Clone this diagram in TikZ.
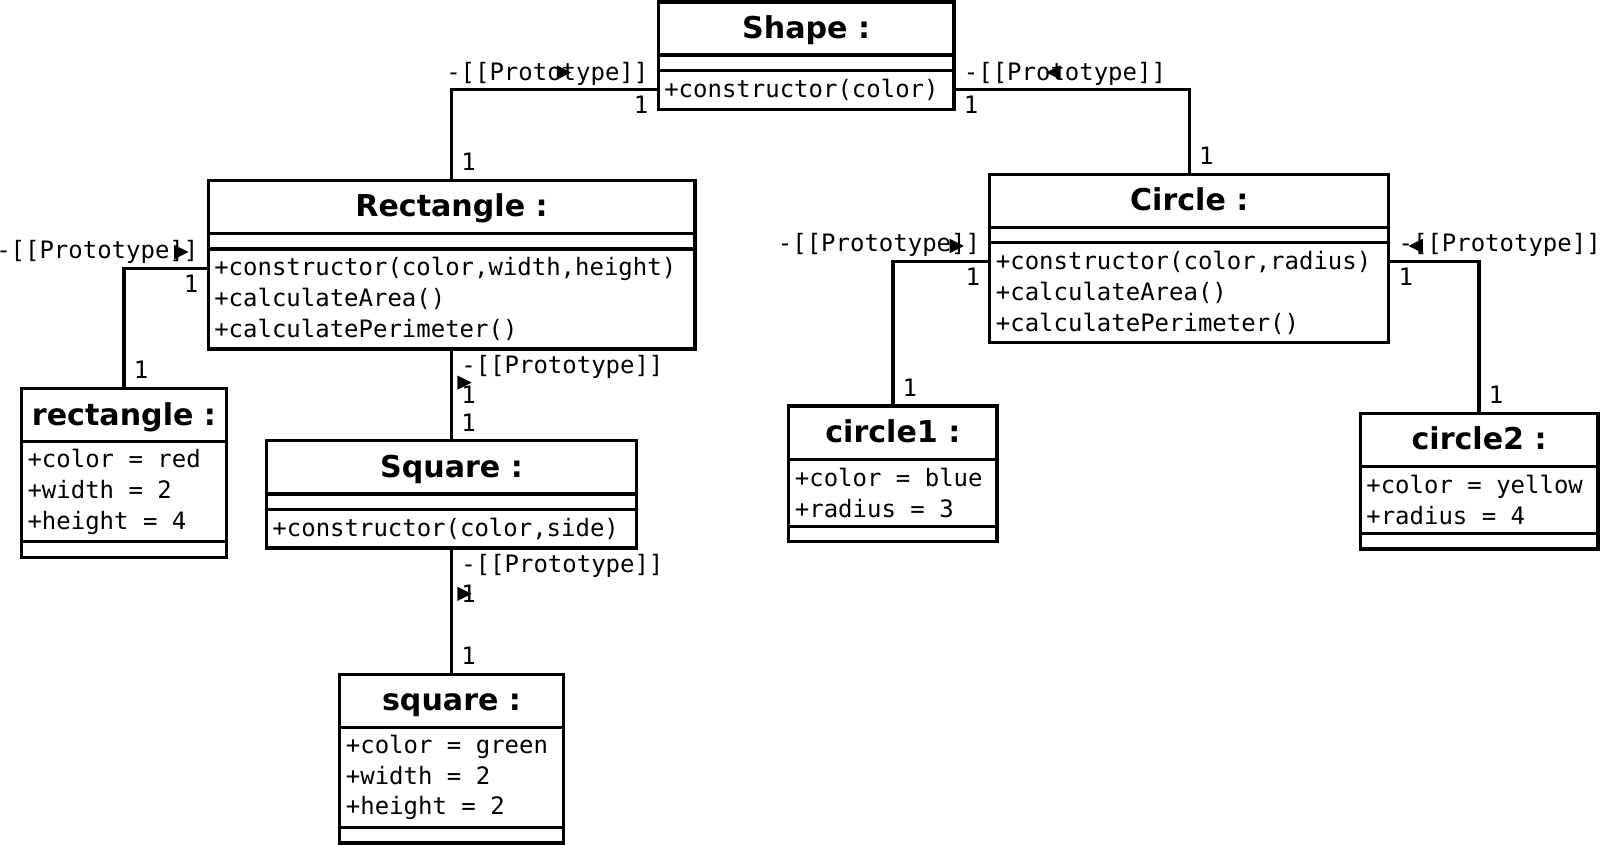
\documentclass[tikz,border=0pt]{standalone}
\usepackage{fontspec}
\setmainfont{DejaVu Sans}
\newfontfamily\umlmono{DejaVu Sans Mono}[WordSpace={1,0,0}]
\usetikzlibrary{positioning,shapes.geometric}
\newcommand\umltitlefont{\fontsize{29.5}{35}\selectfont\bfseries}
\newcommand\umlmemberfont{\umlmono\fontsize{23.5}{30}\selectfont}
\tikzset{
  umlpart/.style={draw, line width=3.2pt, outer sep=0pt, inner sep=0pt},
  umltitle/.style={umlpart, anchor=north, minimum width=#1, minimum height=52pt,
    font=\umltitlefont, text height=24pt, text depth=5pt},
  umlempty/.style={umlpart, minimum width=#1, minimum height=15pt},
  umlmembers/.style 2 args={umlpart, inner xsep=6pt, text width=#1,
    minimum height=#2, align=left, font=\umlmemberfont,
    execute at begin node={\spaceskip=0pt\xspaceskip=0pt\relax}},
  conn/.style={draw, line width=3.2pt},
  lbl/.style={font=\umlmemberfont, inner xsep=8pt, inner ysep=4pt,
    text height=18pt, text depth=4pt},
  tipR/.style={isosceles triangle, isosceles triangle stretches, fill, draw=none,
    inner sep=0pt, minimum width=14pt, minimum height=14pt},
  tipL/.style={tipR, shape border rotate=180}
}
\begin{document}
\begin{tikzpicture}[x=1pt, y=-1pt]
\useasboundingbox (0,0) rectangle (1568,828);

% classes
\node[umltitle=290pt] (shapeT) at (790,2) {Shape :};
\node[umlempty=290pt, below=0pt of shapeT] (shapeA) {};
\node[umlmembers={278pt}{38pt}, below=0pt of shapeA] (shapeM) {+constructor(color)};

\node[umltitle=477pt] (rectT) at (442.5,177) {Rectangle :};
\node[umlempty=477pt, below=0pt of rectT] (rectA) {};
\node[umlmembers={465pt}{98pt}, below=0pt of rectA] (rectM)
  {+constructor(color,width,height)\\+calculateArea()\\+calculatePerimeter()};

\node[umltitle=363pt] (sqT) at (442.5,432) {Square :};
\node[umlempty=363pt, below=0pt of sqT] (sqA) {};
\node[umlmembers={351pt}{38pt}, below=0pt of sqA] (sqM) {+constructor(color,side)};

\node[umltitle=391pt] (circT) at (1165.5,171) {Circle :};
\node[umlempty=391pt, below=0pt of circT] (circA) {};
\node[umlmembers={379pt}{98pt}, below=0pt of circA] (circM)
  {+constructor(color,radius)\\+calculateArea()\\+calculatePerimeter()};

% objects
\node[umltitle=201pt] (rectoT) at (121.5,381) {rectangle :};
\node[umlmembers={189pt}{98pt}, below=0pt of rectoT] (rectoA)
  {+color = red\\+width = 2\\+height = 4};
\node[umlempty=201pt, below=0pt of rectoA] (rectoM) {};

\node[umltitle=219pt] (sqoT) at (442.5,661) {square :};
\node[umlmembers={207pt}{98pt}, below=0pt of sqoT] (sqoA)
  {+color = green\\+width = 2\\+height = 2};
\node[umlempty=219pt, below=0pt of sqoA] (sqoM) {};

\node[umltitle=204pt] (c1T) at (875,398) {circle1 :};
\node[umlmembers={192pt}{66pt}, below=0pt of c1T] (c1A)
  {+color = blue\\+radius = 3};
\node[umlempty=204pt, below=0pt of c1A] (c1M) {};

\node[umltitle=233pt] (c2T) at (1449.5,405) {circle2 :};
\node[umlmembers={221pt}{66pt}, below=0pt of c2T] (c2A)
  {+color = yellow\\+radius = 4};
\node[umlempty=233pt, below=0pt of c2A] (c2M) {};

% prototype links
\draw[conn] (shapeM.west) -| (rectT.north)
  node[lbl, pos=0, above left] {-[[Prototype]]}
  node[lbl, pos=0, below left] {1}
  node[lbl, pos=1, above right] {1}
  node[tipR, pos=0, xshift=-95pt, yshift=17pt] {};
\draw[conn] (shapeM.east) -| (circT.north)
  node[lbl, pos=0, above right] {-[[Prototype]]}
  node[lbl, pos=0, below right] {1}
  node[lbl, pos=1, above right] {1}
  node[tipL, pos=0, xshift=100pt, yshift=17pt] {};
\draw[conn] ([yshift=-19pt]rectM.north west) -| (rectoT.north)
  node[lbl, pos=0, above left] {-[[Prototype]]}
  node[lbl, pos=0, below left] {1}
  node[lbl, pos=1, above right] {1}
  node[tipR, pos=0, xshift=-29pt, yshift=16pt] {};
\draw[conn] (rectM.south) -- (sqT.north)
  node[lbl, pos=0, below right] {-[[Prototype]]}
  node[lbl, pos=0, below right, yshift=-30pt] {1}
  node[lbl, pos=1, above right] {1}
  node[tipR, pos=0, xshift=10pt, yshift=-33pt] {};
\draw[conn] (sqM.south) -- (sqoT.north)
  node[lbl, pos=0, below right] {-[[Prototype]]}
  node[lbl, pos=0, below right, yshift=-30pt] {1}
  node[lbl, pos=1, above right] {1}
  node[tipR, pos=0, xshift=10pt, yshift=-45pt] {};
\draw[conn] ([yshift=-18pt]circM.north west) -| (c1T.north)
  node[lbl, pos=0, above left] {-[[Prototype]]}
  node[lbl, pos=0, below left] {1}
  node[lbl, pos=1, above right] {1}
  node[tipR, pos=0, xshift=-35pt, yshift=15pt] {};
\draw[conn] ([yshift=-18pt]circM.north east) -| (c2T.north)
  node[lbl, pos=0, above right] {-[[Prototype]]}
  node[lbl, pos=0, below right] {1}
  node[lbl, pos=1, above right] {1}
  node[tipL, pos=0, xshift=29pt, yshift=15pt] {};
\end{tikzpicture}
\end{document}
